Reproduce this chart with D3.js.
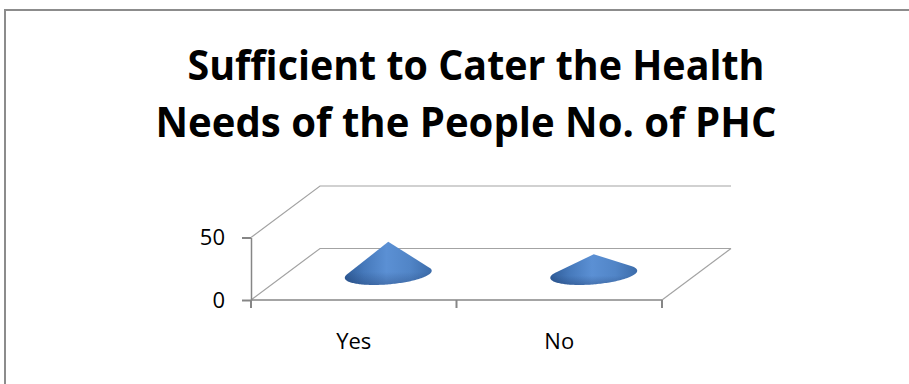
<!DOCTYPE html>
<html>
<head>
<meta charset="utf-8">
<script src="https://cdn.jsdelivr.net/npm/d3@7"></script>
<style>
  html, body { margin: 0; padding: 0; background: #fff; }
  svg { display: block; }
</style>
</head>
<body>
<svg id="chart" width="909" height="384"></svg>
<script>
// Chart data
const titleLines = ["Sufficient to Cater the Health", "Needs of the People No. of PHC"];
const categories = ["Yes", "No"];
const phcCounts = [26, 16];
const yTicks = [0, 50];
const yMax = 50;

const svg = d3.select("#chart");
const W = 909, H = 384;

// Chart area frame
svg.append("rect")
  .attr("x", 5).attr("y", 10)
  .attr("width", W + 20).attr("height", H + 20)
  .attr("fill", "#fff")
  .attr("stroke", "#8c8c8c").attr("stroke-width", 2);

// Title, two centred lines
const titleG = svg.append("g");
const titleLayout = [
  { cx: 476, baseline: 80, width: 577 },
  { cx: 466, baseline: 137, width: 621 }
];
titleLines.forEach((t, i) => {
  const L = titleLayout[i];
  const txt = titleG.append("text")
    .attr("x", L.cx).attr("y", L.baseline)
    .attr("text-anchor", "middle")
    .attr("font-family", "'Open Sans', 'Noto Sans', sans-serif")
    .attr("font-weight", 700)
    .attr("font-size", 42)
    .attr("fill", "#000")
    .text(t);
  const natural = txt.node().getComputedTextLength();
  if (natural > L.width) {
    txt.attr("textLength", L.width).attr("lengthAdjust", "spacingAndGlyphs");
  }
});

// Scales: front plane of the 3-D floor
const x = d3.scaleBand().domain(categories).range([251, 662]).padding(0);
const y = d3.scaleLinear().domain([0, yMax]).range([300, 237.5]);

// Oblique depth vector for the 3-D box
const depth = [69, -51.5];
const proj = (px, py, f) => [px + f * depth[0], py + f * depth[1]];

const gridColor = "#a3a3a3";
const axisColor = "#868686";
const line = d3.line();

const x0 = x.range()[0], x1 = x.range()[1];
const grid = svg.append("g").attr("fill", "none").attr("stroke", gridColor).attr("stroke-width", 1.2);

// Side-wall and back-wall gridlines for each tick
yTicks.forEach(v => {
  const yy = y(v);
  grid.append("path").attr("d", line([[x0, yy], proj(x0, yy, 1), proj(x1, yy, 1)]));
});
// Floor outline: right edge
grid.append("path").attr("d", line([[x1, y(0)], proj(x1, y(0), 1)]));

// Value axis (left)
const yAxis = d3.axisLeft(y).tickValues(yTicks).tickSize(9).tickSizeOuter(0).tickPadding(17);
const yg = svg.append("g").attr("transform", `translate(${x0},0)`).call(yAxis);
yg.select(".domain").attr("stroke", axisColor).attr("stroke-width", 1.5);
yg.selectAll(".tick line").attr("stroke", axisColor).attr("stroke-width", 2);
yg.selectAll(".tick text")
  .attr("font-family", "'Open Sans', 'Noto Sans', sans-serif")
  .attr("font-size", 22).attr("fill", "#000");

// Category axis (front floor edge) with ticks between categories
const xg = svg.append("g");
xg.append("path").attr("d", line([[x0, y(0)], [x1, y(0)]]))
  .attr("stroke", axisColor).attr("stroke-width", 1.5).attr("fill", "none");
const edges = categories.map(c => x(c)).concat([x1]);
xg.selectAll("line.tk").data(edges).join("line")
  .attr("class", "tk")
  .attr("x1", d => d).attr("x2", d => d)
  .attr("y1", y(0)).attr("y2", y(0) + 8)
  .attr("stroke", axisColor).attr("stroke-width", 2);
xg.selectAll("text").data(categories).join("text")
  .attr("x", d => x(d) + x.bandwidth() / 2)
  .attr("y", 349)
  .attr("text-anchor", "middle")
  .attr("font-family", "'Open Sans', 'Noto Sans', sans-serif")
  .attr("font-size", 22).attr("fill", "#000")
  .text(d => d);

// Cone shading
const defs = svg.append("defs");
const grad = defs.append("linearGradient").attr("id", "coneFill")
  .attr("x1", "0%").attr("y1", "0%").attr("x2", "100%").attr("y2", "0%");
[["0%", "#2f5c98"], ["22%", "#4679bb"], ["48%", "#5b90d4"], ["75%", "#5185c7"], ["100%", "#3c6caa"]]
  .forEach(([o, c]) => grad.append("stop").attr("offset", o).attr("stop-color", c));
const shade = defs.append("linearGradient").attr("id", "coneShade")
  .attr("x1", "0%").attr("y1", "0%").attr("x2", "0%").attr("y2", "100%");
[["0%", "rgba(20,45,90,0)"], ["70%", "rgba(20,45,90,0)"], ["100%", "rgba(20,45,90,0.3)"]]
  .forEach(([o, c]) => shade.append("stop").attr("offset", o).attr("stop-color", c));

// Cones sit at mid-depth of the floor
const rx = 41, ux = 14.4, uy = -10.7;
const coneG = svg.append("g");
categories.forEach((c, i) => {
  const [cx, cy] = proj(x(c) + x.bandwidth() / 2, y(0), 0.5);
  const apex = [cx, cy - (y(0) - y(phcCounts[i]))];
  const pts = d3.range(0, 360, 2).map(deg => {
    const t = deg * Math.PI / 180;
    return [cx + rx * Math.cos(t) + ux * Math.sin(t), cy + uy * Math.sin(t)];
  });
  pts.push(apex);
  const hull = d3.polygonHull(pts);
  const d = "M" + hull.map(p => p.join(",")).join("L") + "Z";
  coneG.append("path").attr("d", d).attr("fill", "url(#coneFill)");
  coneG.append("path").attr("d", d).attr("fill", "url(#coneShade)");
});
</script>
</body>
</html>
